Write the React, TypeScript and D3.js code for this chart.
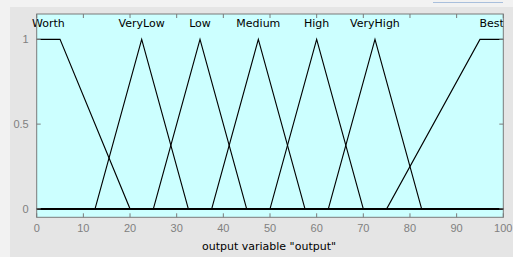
import { useEffect, useRef } from "react"
import * as d3 from "d3"

// membership functions of the output variable (MATLAB fis style params)
const mfNames = ["Worth", "VeryLow", "Low", "Medium", "High", "VeryHigh", "Best"]
const mfTypes = ["trapmf", "trimf", "trimf", "trimf", "trimf", "trimf", "trapmf"]
const mfParams = [
  [0, 0, 5, 20],
  [12.5, 22.5, 32.5],
  [25, 35, 45],
  [37.5, 47.5, 57.5],
  [50, 60, 70],
  [62.5, 72.5, 82.5],
  [75, 95, 100, 100],
]

const xTicks = [0, 10, 20, 30, 40, 50, 60, 70, 80, 90, 100]
const yTicks = [0, 0.5, 1]
const xRange = [0, 100]
const xLabel = 'output variable "output"'

export default function App() {
  const svgRef = useRef<SVGSVGElement>(null)

  useEffect(() => {
    if (!svgRef.current) return
    const svg = d3.select(svgRef.current)
    svg.selectAll("*").remove()

    const width = 513
    const height = 257
    const font = "'Liberation Sans', Arial, sans-serif"
    const labelFont = "'DejaVu Sans', Verdana, sans-serif"

    svg.attr("width", width).attr("height", height)

    // figure background
    svg.append("rect").attr("width", width).attr("height", height).style("fill", "#f2f2f2")
    svg.append("rect")
      .attr("x", 10).attr("y", 7)
      .attr("width", width - 10).attr("height", height - 7)
      .style("fill", "#e5e5e5")
    svg.append("line")
      .attr("x1", 433).attr("x2", 503).attr("y1", 2.5).attr("y2", 2.5)
      .style("stroke", "#a9bfdc").style("stroke-width", 1)

    const x = d3.scaleLinear().domain(xRange).range([36.7, 503.3])
    const y = d3.scaleLinear().domain([-0.05, 1.15]).range([217.3, 14])

    const left = x(xRange[0]), right = x(xRange[1])
    const top = y(1.15), bottom = y(-0.05)

    svg.append("rect")
      .attr("x", left).attr("y", top)
      .attr("width", right - left).attr("height", bottom - top)
      .style("fill", "#ccffff")

    const g = svg.append("g")

    // curves
    const line = d3.line<number[]>().x(d => x(d[0])).y(d => y(d[1]))
    mfParams.forEach((p, i) => {
      let pts: number[][]
      if (mfTypes[i] === "trimf") {
        pts = [[xRange[0], 0], [p[0], 0], [p[1], 1], [p[2], 0], [xRange[1], 0]]
      } else {
        const l = p[0] === p[1] ? 1 : 0
        const r = p[2] === p[3] ? 1 : 0
        pts = [[xRange[0], l], [p[0], l], [p[1], 1], [p[2], 1], [p[3], r], [xRange[1], r]]
      }
      g.append("path")
        .attr("d", line(pts))
        .style("fill", "none")
        .style("stroke", "#000")
        .style("stroke-width", 1.1)

      const cx = mfTypes[i] === "trimf" ? p[1] : (p[1] + p[2]) / 2
      g.append("text")
        .attr("x", x(cx))
        .attr("y", y(1.075))
        .attr("text-anchor", "middle")
        .style("font-family", labelFont)
        .style("font-size", "11px")
        .style("fill", "#000")
        .text(mfNames[i])
    })

    // box and ticks
    svg.append("rect")
      .attr("x", left).attr("y", top)
      .attr("width", right - left).attr("height", bottom - top)
      .style("fill", "none")
      .style("stroke", "#7a7a7a")
      .style("stroke-width", 1)

    const tickLen = 4
    xTicks.forEach(t => {
      svg.append("line")
        .attr("x1", x(t)).attr("x2", x(t))
        .attr("y1", bottom).attr("y2", bottom - tickLen)
        .style("stroke", "#7a7a7a")
      svg.append("line")
        .attr("x1", x(t)).attr("x2", x(t))
        .attr("y1", top).attr("y2", top + tickLen)
        .style("stroke", "#7a7a7a")
      svg.append("text")
        .attr("x", x(t))
        .attr("y", 232)
        .attr("text-anchor", "middle")
        .style("font-family", font)
        .style("font-size", "11px")
        .style("fill", "#808080")
        .text(t)
    })
    yTicks.forEach(t => {
      svg.append("line")
        .attr("x1", left).attr("x2", left + tickLen)
        .attr("y1", y(t)).attr("y2", y(t))
        .style("stroke", "#7a7a7a")
      svg.append("line")
        .attr("x1", right).attr("x2", right - tickLen)
        .attr("y1", y(t)).attr("y2", y(t))
        .style("stroke", "#7a7a7a")
      svg.append("text")
        .attr("x", left - 8)
        .attr("y", y(t) + 4)
        .attr("text-anchor", "end")
        .style("font-family", font)
        .style("font-size", "11px")
        .style("fill", "#808080")
        .text(t)
    })

    svg.append("text")
      .attr("x", (left + right) / 2 - 1)
      .attr("y", 250)
      .attr("text-anchor", "middle")
      .style("font-family", labelFont)
      .style("font-size", "11px")
      .style("fill", "#000")
      .text(xLabel)
  }, [])

  return (
    <div style={{ position: "fixed", left: 0, top: 0 }}>
      <svg ref={svgRef} style={{ display: "block" }} />
    </div>
  )
}
